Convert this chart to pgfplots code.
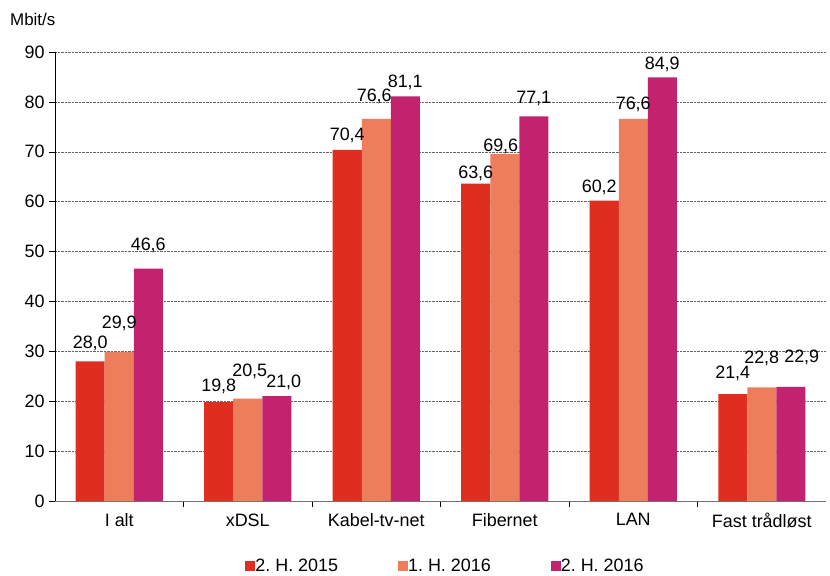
\documentclass[border=0pt]{standalone}
\usepackage{fontspec}
\setmainfont{Liberation Sans}
\usepackage{pgfplots}
\usepackage{pgfplotstable}
\pgfplotsset{compat=1.18}
\frenchspacing

\definecolor{cRed}{RGB}{223,46,32}
\definecolor{cOrange}{RGB}{238,125,91}
\definecolor{cMagenta}{RGB}{194,34,110}

% x = category, y = Mbit/s, dx/dy = label offset (bp)
\pgfplotstableread{
x y dx dy
0 28.0 0 13
1 19.8 0 11
2 70.4 0 9
3 63.6 0 5
4 60.2 -5 8
5 21.4 0 16
}\hAa
\pgfplotstableread{
x y dx dy
0 29.9 0 23
1 20.5 2 22
2 76.6 -2 17
3 69.6 -4 2
4 76.6 0 9
5 22.8 0 24
}\hAb
\pgfplotstableread{
x y dx dy
0 46.6 0 18
1 21.0 7 9
2 81.1 0 9
3 77.1 0 13
4 84.9 0 8
5 22.9 11 24
}\hAc

\begin{document}
\begin{tikzpicture}
\useasboundingbox (-55bp,-75bp) rectangle (775bp,501bp);
\begin{axis}[
    at={(0,0)}, anchor=south west,
    scale only axis,
    width=771bp, height=449bp,
    xmin=-0.5, xmax=5.5,
    ymin=0, ymax=90,
    ytick={0,10,...,90},
    xtick={0,...,5},
    xticklabels={I alt, xDSL, Kabel-tv-net, Fibernet, LAN, Fast trådløst},
    minor xtick={0.5,1.5,2.5,3.5,4.5},
    axis x line*=bottom,
    axis y line*=left,
    x axis line style={gray!90!black, -},
    y axis line style={black, -},
    tick align=outside,
    major tick length=6bp,
    minor tick length=6bp,
    xtick style={draw=none},
    minor x tick style={draw=black, thin},
    ytick style={black, thin},
    ymajorgrids,
    grid style={densely dotted, gray!80!black, thin},
    ticklabel style={font=\fontsize{18}{21}\selectfont},
    xticklabel style={yshift=-3bp},
    yticklabel style={xshift=-1bp},
    /pgf/number format/assume math mode=true,
    ybar, bar width=0.2257,
    nodes near coords={\pgfmathprintnumber[fixed, fixed zerofill, precision=1, use comma]{\pgfplotspointmeta}},
    visualization depends on={\thisrow{dx} \as \dx},
    visualization depends on={\thisrow{dy} \as \dy},
    every node near coord/.append style={font=\fontsize{18}{21}\selectfont, anchor=base, inner sep=0pt, xshift=\dx*1bp, yshift=\dy*1bp, black},
    legend columns=3,
    legend style={at={(0.5,0)}, anchor=center, xshift=5bp, yshift=-65bp, draw=none, fill=none,
        font=\fontsize{18}{21}\selectfont, /tikz/every even column/.append style={column sep=58bp},
        /tikz/every odd column/.append style={column sep=-2bp}},
    legend image code/.code={\fill[#1] (0bp,-5bp) rectangle (10bp,5bp);},
    clip=false,
]
\addplot[fill=cRed, draw=none, bar shift=-0.2257] table[x=x, y=y] {\hAa};
\addplot[fill=cOrange, draw=none, bar shift=0] table[x=x, y=y] {\hAb};
\addplot[fill=cMagenta, draw=none, bar shift=0.2257] table[x=x, y=y] {\hAc};
\legend{2. H. 2015, 1. H. 2016, 2. H. 2016}
\node[anchor=base west, font=\fontsize{17}{20}\selectfont, inner sep=0pt] at ([xshift=-45bp, yshift=27bp]rel axis cs:0,1) {Mbit/s};
\end{axis}
\end{tikzpicture}
\end{document}
